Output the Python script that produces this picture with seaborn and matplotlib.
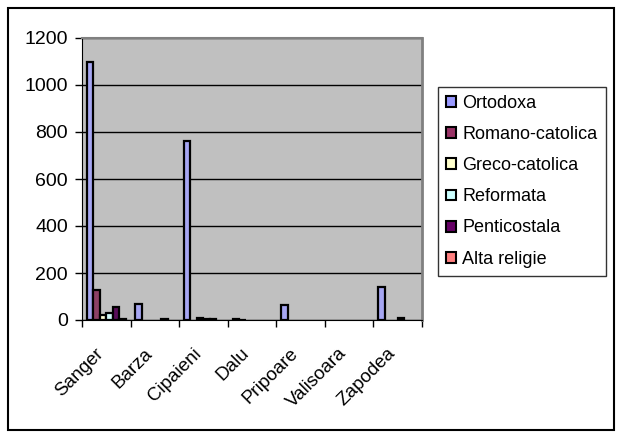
import pandas as pd
import matplotlib.pyplot as plt
import matplotlib.transforms as mtransforms
import seaborn as sns
from matplotlib.patches import Rectangle, Patch

villages = ['Sanger', 'Barza', 'Cipaieni', 'Dalu', 'Pripoare', 'Valisoara', 'Zapodea']
religions = ['Ortodoxa', 'Romano-catolica', 'Greco-catolica', 'Reformata', 'Penticostala', 'Alta religie']

ortodoxa = [1100, 70, 760, 5, 62, 0, 142]
romano = [128, 0, 0, 2, 0, 0, 0]
greco = [20, 0, 8, 0, 0, 0, 0]
reformata = [28, 0, 4, 0, 0, 0, 10]
penticostala = [55, 4, 4, 0, 0, 0, 0]
alta = [3, 0, 0, 0, 0, 0, 0]

colors = ['#9999FF', '#993366', '#FFFFCC', '#CCFFFF', '#660066', '#FF8080']

rows = []
for rel, vals in zip(religions, [ortodoxa, romano, greco, reformata, penticostala, alta]):
    for v, val in zip(villages, vals):
        rows.append({'village': v, 'religion': rel, 'count': val})
data = pd.DataFrame(rows)

plt.rcParams['font.family'] = ['Liberation Sans', 'DejaVu Sans']
fig = plt.figure(figsize=(6.24, 4.37), dpi=100)
ax = fig.add_axes([82 / 624, 1 - 320 / 437, 340 / 624, 282 / 437])

sns.barplot(data=data, x='village', y='count', hue='religion', order=villages,
            hue_order=religions, palette=colors, edgecolor='black', linewidth=1.6,
            width=0.8, legend=False, ax=ax)

# empty categories draw nothing
for bar in ax.patches:
    if bar.get_height() == 0:
        bar.set_visible(False)

ax.set_facecolor('#C0C0C0')
ax.set_ylim(0, 1200)
ax.set_xlim(-0.5, 6.5)
ax.set_yticks(range(0, 1201, 200))
ax.yaxis.grid(True, color='black', linewidth=1)
ax.set_axisbelow(True)
ax.set_xticks([i - 0.5 for i in range(8)])
ax.set_xticklabels([])
ax.set_xticks(range(7), minor=True)
ax.set_xticklabels(villages, minor=True, rotation=45, ha='right', rotation_mode='anchor')
ax.tick_params(axis='x', which='minor', length=0, pad=10, labelsize=13.5)
ax.tick_params(axis='x', which='major', length=5, width=1, direction='out')
ax.tick_params(axis='y', length=5, width=1, direction='out', labelsize=14, pad=5)
shift = mtransforms.ScaledTranslation(-11 / 100, -11 / 100, fig.dpi_scale_trans)
for lbl in ax.get_xticklabels(minor=True):
    lbl.set_transform(lbl.get_transform() + shift)
ax.set_xlabel('')
ax.set_ylabel('')
ax.spines['left'].set_color('black')
ax.spines['bottom'].set_color('black')
ax.spines['top'].set_color('#808080')
ax.spines['right'].set_color('#808080')
ax.spines['right'].set_linewidth(2)
ax.spines['top'].set_linewidth(1.5)

handles = [Patch(facecolor=c, edgecolor='black', linewidth=1.5) for c in colors]
leg = fig.legend(handles, religions, loc='upper left',
                 bbox_to_anchor=(438 / 624, 1 - 87 / 437), frameon=True,
                 fontsize=13, handlelength=0.55, handleheight=0.55,
                 handletextpad=0.35, labelspacing=0.78, borderpad=0.45,
                 borderaxespad=0, fancybox=False, edgecolor='black')
leg.get_frame().set_linewidth(1)

fig.patches.append(Rectangle((8 / 624, 1 - 430 / 437), 606 / 624, 422 / 437,
                             transform=fig.transFigure, fill=False,
                             edgecolor='black', linewidth=1.5))

plt.savefig('out.png', dpi=100)
plt.close()
